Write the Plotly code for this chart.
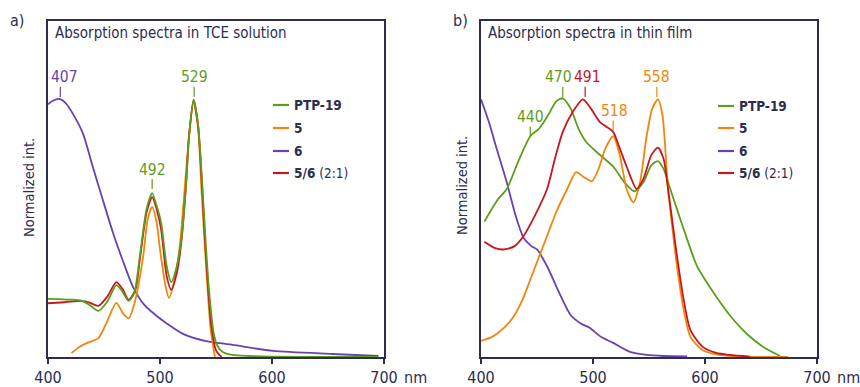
import plotly.graph_objects as go

# ---------------- data: panel a (TCE solution) ----------------
a_ptp_wl = [400, 410, 420, 430, 437, 445, 453, 461, 466, 472, 477, 482, 488, 493, 497, 501, 506, 510, 515, 519, 523, 526, 530, 534, 538, 541, 544, 548, 551, 556, 565, 580, 600, 650, 695]
a_ptp_v = [0.173, 0.172, 0.171, 0.168, 0.155, 0.137, 0.165, 0.214, 0.197, 0.167, 0.19, 0.30, 0.44, 0.488, 0.45, 0.40, 0.27, 0.223, 0.27, 0.35, 0.50, 0.66, 0.765, 0.69, 0.50, 0.33, 0.19, 0.07, 0.035, 0.015, 0.006, 0.003, 0.001, 0.0, 0.0]

a_5_wl = [421, 428, 435, 445, 452, 461, 467, 472, 478, 485, 489, 493, 497, 500, 505, 508, 513, 518, 522, 526, 530, 534, 537, 541, 545, 549]
a_5_v = [0.012, 0.03, 0.042, 0.056, 0.10, 0.161, 0.13, 0.115, 0.17, 0.30, 0.41, 0.447, 0.40, 0.32, 0.21, 0.176, 0.23, 0.34, 0.50, 0.66, 0.76, 0.68, 0.50, 0.28, 0.09, 0.0]

a_6_wl = [400, 404, 410, 416, 422, 431, 440, 449, 458, 467, 476, 486, 496, 506, 521, 540, 565, 601, 654, 695]
a_6_v = [0.752, 0.762, 0.768, 0.755, 0.725, 0.667, 0.566, 0.467, 0.37, 0.285, 0.208, 0.155, 0.125, 0.10, 0.068, 0.048, 0.036, 0.018, 0.009, 0.003]

a_56_wl = [400, 415, 430, 437, 445, 453, 461, 467, 472, 478, 482, 488, 493, 497, 501, 506, 510, 515, 519, 523, 526, 530, 534, 538, 541, 546, 550, 555]
a_56_v = [0.16, 0.163, 0.167, 0.162, 0.152, 0.18, 0.223, 0.2, 0.17, 0.2, 0.29, 0.43, 0.476, 0.44, 0.38, 0.24, 0.2, 0.25, 0.34, 0.50, 0.66, 0.765, 0.69, 0.48, 0.30, 0.09, 0.02, 0.0]

# ---------------- data: panel b (thin film) ----------------
b_ptp_wl = [403, 415, 423, 433, 444, 452, 460, 467, 473, 480, 487, 494, 505, 518, 528, 537, 545, 552, 558, 563, 569, 580, 593, 608, 622, 637, 652, 667]
b_ptp_v = [0.403, 0.469, 0.50, 0.58, 0.657, 0.68, 0.72, 0.76, 0.77, 0.74, 0.68, 0.64, 0.605, 0.567, 0.52, 0.493, 0.52, 0.57, 0.583, 0.56, 0.50, 0.39, 0.27, 0.19, 0.125, 0.07, 0.03, 0.003]

b_5_wl = [400, 410, 420, 429, 437, 444, 452, 459, 467, 477, 485, 492, 499, 505, 511, 518, 524, 530, 536, 542, 548, 553, 558, 562, 567, 571, 575, 581, 587, 598, 610, 630, 674]
b_5_v = [0.048, 0.06, 0.085, 0.12, 0.17, 0.23, 0.30, 0.36, 0.43, 0.50, 0.55, 0.535, 0.523, 0.56, 0.62, 0.657, 0.60, 0.50, 0.46, 0.52, 0.66, 0.74, 0.767, 0.72, 0.50, 0.38, 0.27, 0.14, 0.06, 0.02, 0.008, 0.002, 0.0]

b_6_wl = [400, 407, 414, 423, 431, 438, 445, 450, 459, 470, 480, 489, 497, 507, 518, 533, 548, 563, 584]
b_6_v = [0.767, 0.70, 0.62, 0.52, 0.42, 0.355, 0.33, 0.32, 0.27, 0.19, 0.125, 0.10, 0.087, 0.06, 0.042, 0.015, 0.006, 0.003, 0.002]

b_56_wl = [403, 412, 420, 430, 438, 448, 459, 466, 473, 482, 491, 498, 506, 512, 518, 524, 530, 539, 545, 552, 558, 563, 567, 571, 575, 581, 587, 598, 610, 622, 640]
b_56_v = [0.343, 0.325, 0.32, 0.33, 0.36, 0.42, 0.50, 0.59, 0.67, 0.73, 0.767, 0.74, 0.70, 0.685, 0.67, 0.62, 0.567, 0.50, 0.53, 0.60, 0.623, 0.59, 0.50, 0.40, 0.30, 0.17, 0.08, 0.03, 0.012, 0.006, 0.001]

# peak labels: tick wavelength, label wavelength, label level, colour key, text
a_peak_wl = [411, 493, 530.5]
a_peak_txt_wl = [415, 493, 530.5]
a_peak_lvl = [0.832, 0.558, 0.832]
a_peak_txt = ["407", "492", "529"]
a_peak_col = ["6", "PTP-19", "PTP-19"]

b_peak_wl = [444, 473, 493, 518, 557]
b_peak_txt_wl = [444, 469, 495.5, 519, 556.5]
b_peak_lvl = [0.713, 0.832, 0.832, 0.732, 0.832]
b_peak_txt = ["440", "470", "491", "518", "558"]
b_peak_col = ["PTP-19", "PTP-19", "5/6", "5", "5"]

series_names = ["PTP-19", "5", "6", "5/6"]
legend_labels = ["<b>PTP-19</b>", "<b>5</b>", "<b>6</b>", "<b>5/6</b> (2:1)"]
tick_vals = [400, 500, 600, 700]
tick_text = ["400", "500", "600", "700"]

COL = {"PTP-19": "#5b9e1c", "5": "#f0860a", "6": "#6a42ad", "5/6": "#c8161e"}
NAVY = "#2e2d4f"
FONT = "DejaVu Sans Condensed, Liberation Sans Narrow, sans-serif"

W, H = 860, 387
fig = go.Figure()

panels = [
    ("x", "y", {"PTP-19": (a_ptp_wl, a_ptp_v), "5": (a_5_wl, a_5_v), "6": (a_6_wl, a_6_v), "5/6": (a_56_wl, a_56_v)},
     ["6", "5", "5/6", "PTP-19"]),
    ("x2", "y2", {"PTP-19": (b_ptp_wl, b_ptp_v), "5": (b_5_wl, b_5_v), "6": (b_6_wl, b_6_v), "5/6": (b_56_wl, b_56_v)},
     ["6", "PTP-19", "5", "5/6"]),
]
for xa, ya, d, order in panels:
    for name in order:
        wl, v = d[name]
        fig.add_trace(go.Scatter(x=wl, y=v, mode="lines", xaxis=xa, yaxis=ya,
                                 line=dict(color=COL[name], width=1.8, shape="spline", smoothing=0.7),
                                 showlegend=False, hoverinfo="skip"))

def add_peaks(xa, ya, wls, twls, lvls, txts, cols):
    for wl, twl, lv, t, c in zip(wls, twls, lvls, txts, cols):
        fig.add_annotation(x=twl, y=lv, xref=xa, yref=ya, text=t, showarrow=False,
                           font=dict(family=FONT, size=15.5, color=COL[c]), yanchor="middle")
        fig.add_shape(type="line", xref=xa, yref=ya, x0=wl, x1=wl, y0=lv - 0.058, y1=lv - 0.028,
                      line=dict(color=COL[c], width=1.2))

add_peaks("x", "y", a_peak_wl, a_peak_txt_wl, a_peak_lvl, a_peak_txt, a_peak_col)
add_peaks("x2", "y2", b_peak_wl, b_peak_txt_wl, b_peak_lvl, b_peak_txt, b_peak_col)

# legends (drawn inside each panel)
def add_legend(x_line0, x_line1, x_text, y_rows):
    for name, lab, yy in zip(series_names, legend_labels, y_rows):
        fig.add_shape(type="line", xref="paper", yref="paper",
                      x0=x_line0 / W, x1=x_line1 / W, y0=1 - yy / H, y1=1 - yy / H,
                      line=dict(color=COL[name], width=2.2))
        fig.add_annotation(x=x_text / W, y=1 - yy / H, xref="paper", yref="paper", text=lab,
                           showarrow=False, xanchor="left", yanchor="middle",
                           font=dict(family=FONT, size=13.5, color=NAVY))

add_legend(273, 289, 292, [105, 128, 151, 173])
add_legend(718, 734, 737, [106, 128, 151, 173])

# panel titles, panel letters, units, y titles
texts = [
    (53, 33, "Absorption spectra in TCE solution", 15),
    (486, 33, "Absorption spectra in thin film", 15),
    (8, 20, "a)", 16),
    (451, 21, "b)", 16),
    (402, 377, "nm", 16),
    (835, 377, "nm", 16),
]
for x, y, t, sz in texts:
    fig.add_annotation(x=x / W, y=1 - y / H, xref="paper", yref="paper", text=t, showarrow=False,
                       xanchor="left", yanchor="middle", font=dict(family=FONT, size=sz, color=NAVY))
for x, y in [(29, 188), (462, 186)]:
    fig.add_annotation(x=x / W, y=1 - y / H, xref="paper", yref="paper", text="Normalized int.",
                       showarrow=False, textangle=-90, xanchor="center", yanchor="middle",
                       font=dict(family=FONT, size=14.5, color=NAVY))

y_dom = [1 - 357 / H, 1 - 21 / H]
xcommon = dict(range=[400, 700], showgrid=False, zeroline=False, showline=True, mirror=True,
               linecolor=NAVY, linewidth=2, ticks="outside", ticklen=5, tickwidth=1.5, tickcolor=NAVY,
               tickvals=tick_vals, ticktext=tick_text, automargin=False,
               tickfont=dict(family=FONT, size=16, color=NAVY))
ycommon = dict(range=[0, 1], showgrid=False, zeroline=False, showline=True, mirror=True, automargin=False,
               linecolor=NAVY, linewidth=2, showticklabels=False, ticks="", domain=y_dom)

fig.update_layout(
    width=W, height=H, margin=dict(l=0, r=0, t=0, b=0, autoexpand=False),
    paper_bgcolor="white", plot_bgcolor="white", showlegend=False,
    xaxis=dict(domain=[48 / W, 384 / W], anchor="y", **xcommon),
    yaxis=dict(anchor="x", **ycommon),
    xaxis2=dict(domain=[481 / W, 817 / W], anchor="y2", **xcommon),
    yaxis2=dict(anchor="x2", **ycommon),
)

fig.write_html("out.html")
